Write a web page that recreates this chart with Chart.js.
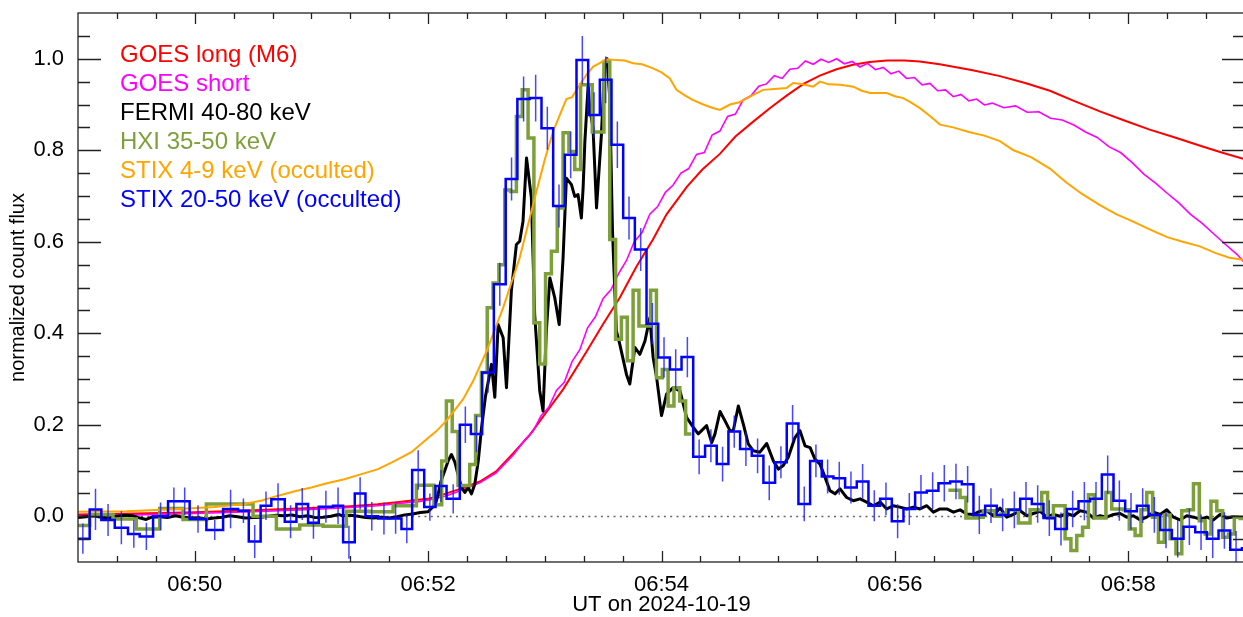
<!DOCTYPE html>
<html>
<head>
<meta charset="utf-8">
<title>Normalized count flux, UT on 2024-10-19</title>
<script src="https://cdn.jsdelivr.net/npm/chart.js@4.4.1/dist/chart.umd.min.js"></script>
<style>
  html, body { margin: 0; padding: 0; background: #fff; overflow: hidden; }
  #wrap { width: 1247px; height: 617px; }
</style>
</head>
<body>
<div id="wrap"><canvas id="fluxChart"></canvas></div>
<script>
// all times are seconds after 06:49:00 UT
const xTickSeconds = [60, 180, 300, 420, 540];
const xTickLabels = ['06:50', '06:52', '06:54', '06:56', '06:58'];
const yTickValues = [0, 0.2, 0.4, 0.6, 0.8, 1.0];
const yTickLabels = ['0.0', '0.2', '0.4', '0.6', '0.8', '1.0'];

const legendLabels = ['GOES long (M6)', 'GOES short', 'FERMI 40-80 keV', 'HXI 35-50 keV',
  'STIX 4-9 keV (occulted)', 'STIX 20-50 keV (occulted)'];
const legendColors = ['#ff0000', '#ff00ff', '#000000', '#7ea03a', '#ffa500', '#0000ff'];

const goesLongTime = [0, 30, 60, 90, 120, 140, 154, 165, 175, 181, 189.5, 198, 206.6, 215, 223.8, 232.3,
  240.9, 249.5, 261.5, 270, 278.6, 287, 295.6, 302.6, 313, 321, 330, 338, 347, 356, 364.5, 373, 381.4,
  390, 398.4, 407, 415.9, 425, 432.8, 443, 460, 474, 487, 499.7, 512, 525.4, 538, 551, 564, 577, 588, 600];
const goesLongFlux = [0.004, 0.006, 0.009, 0.013, 0.018, 0.022, 0.026, 0.031, 0.036, 0.039, 0.05, 0.062,
  0.076, 0.098, 0.138, 0.178, 0.228, 0.278, 0.36, 0.42, 0.478, 0.545, 0.605, 0.66, 0.72, 0.758, 0.792,
  0.83, 0.862, 0.893, 0.92, 0.945, 0.963, 0.977, 0.987, 0.993, 0.996, 0.996, 0.994, 0.988, 0.975, 0.962,
  0.947, 0.93, 0.908, 0.885, 0.865, 0.845, 0.828, 0.81, 0.795, 0.78];

const goesShortTime = [0, 30, 60, 90, 120, 140, 154, 165, 175, 181, 189.5, 198, 206.6, 215, 223.8, 230,
  234, 238, 242, 246, 250, 254, 258, 262, 266, 270, 274, 278, 282, 286, 290, 294, 298, 302, 306, 310,
  314, 318, 322, 326, 330, 334, 338, 342, 346, 350, 354, 358, 362, 366, 370, 374, 378, 382, 386, 390,
  394, 398, 402, 406, 410, 414, 418, 422, 426, 430, 434, 438, 442, 446, 450, 454, 458, 462, 466, 470,
  476, 482, 488, 494, 500, 506, 512, 518, 524, 530, 536, 542, 548, 554, 560, 566, 572, 578, 584, 590,
  596, 600];
const goesShortFlux = [0.001, 0.003, 0.006, 0.01, 0.015, 0.019, 0.023, 0.028, 0.032, 0.036, 0.045, 0.058,
  0.073, 0.095, 0.134, 0.168, 0.186, 0.219, 0.238, 0.275, 0.293, 0.338, 0.364, 0.412, 0.436, 0.476,
  0.495, 0.531, 0.559, 0.6, 0.62, 0.66, 0.677, 0.708, 0.724, 0.75, 0.76, 0.791, 0.795, 0.833, 0.842,
  0.874, 0.879, 0.91, 0.919, 0.94, 0.945, 0.963, 0.957, 0.977, 0.979, 0.995, 0.988, 0.999, 0.992, 1.0,
  0.989, 0.994, 0.982, 0.99, 0.976, 0.981, 0.967, 0.973, 0.957, 0.959, 0.943, 0.946, 0.93, 0.932, 0.917,
  0.922, 0.908, 0.912, 0.899, 0.903, 0.893, 0.897, 0.883, 0.884, 0.87, 0.866, 0.855, 0.84, 0.828, 0.808,
  0.795, 0.773, 0.748, 0.728, 0.706, 0.685, 0.66, 0.64, 0.617, 0.594, 0.572, 0.553];

const fermiTime = [0, 4, 8, 12, 16, 20, 24, 28, 32, 35, 38, 42, 46, 50, 54, 58, 62, 66, 70, 74, 78, 82,
  86, 90, 94, 98, 102, 106, 110, 114, 118, 122, 126, 130, 134, 136, 140, 144, 148, 152, 156, 160, 164,
  168, 172, 176, 180, 182.3, 184, 185.2, 186.5, 188.6, 190.3, 192, 193.8, 195.5, 197.2, 198.9, 200.6,
  202.3, 204, 205.8, 207.5, 209.5, 212.6, 214.3, 216, 218.6, 220.3, 222.8, 225.4, 227.1, 228.8, 230.6,
  233.1, 234.8, 237.4, 239.1, 240.8, 242.6, 245.1, 247.4, 249.4, 251.1, 253.7, 255.4, 257.1, 258.8,
  259.7, 260.6, 262.3, 263.1, 264.8, 266.6, 269.1, 270.8, 272, 273.4, 274.8, 276.8, 278.6, 282, 283.7,
  286.3, 288.9, 291.5, 294, 295.7, 297.5, 300, 302.6, 306, 309.5, 312.9, 316.4, 318.9, 320.6, 323.2,
  325.8, 327.5, 330.1, 332.6, 335.2, 336.9, 339.5, 342.1, 344.6, 347.2, 350.6, 354.1, 357.5, 360.1,
  362.6, 365.2, 368.6, 371.2, 373.8, 376.4, 378.9, 381.5, 384.1, 386.6, 389.2, 391.8, 395.2, 398.6,
  402.1, 405.5, 408.9, 412.4, 415.8, 419.2, 422.6, 426.1, 429.5, 432.9, 436.4, 439.8, 443.2, 446.7,
  450.1, 453.5, 457, 460.4, 463.8, 467.2, 470.6, 474.1, 477.5, 480.9, 484.4, 487.8, 491.2, 494.6,
  498.1, 501.5, 504.9, 508.4, 511.8, 515.2, 518.6, 522.1, 525.5, 528.9, 532.4, 535.8, 539.2, 542.6,
  546.1, 549.5, 552.9, 556.4, 559.8, 563.2, 566.6, 570.1, 573.5, 576.9, 580.4, 583.8, 587.2, 590.6,
  594.1, 597.5, 600];
const fermiFlux = [-0.003, -0.001, 0.001, -0.002, -0.004, 0.0, 0.002, 0.001, -0.004, -0.007, -0.002,
  -0.001, -0.003, 0.001, -0.002, -0.004, -0.003, -0.006, -0.004, -0.002, 0.001, -0.001, -0.004, -0.003,
  -0.002, 0.0, 0.002, 0.001, 0.003, -0.001, 0.001, -0.003, -0.002, 0.0, 0.004, 0.001, 0.002, 0.0,
  -0.003, -0.004, -0.002, -0.004, -0.001, 0.003, 0.005, 0.008, 0.01, 0.02, 0.03, 0.049, 0.075, 0.1,
  0.121, 0.135, 0.118, 0.089, 0.063, 0.052, 0.063, 0.049, 0.07, 0.121, 0.194, 0.262, 0.332, 0.26, 0.419,
  0.39, 0.281, 0.492, 0.594, 0.601, 0.645, 0.783, 0.696, 0.441, 0.274, 0.23, 0.405, 0.521, 0.478, 0.419,
  0.565, 0.739, 0.725, 0.699, 0.703, 0.652, 0.718, 0.819, 0.943, 0.892, 0.848, 0.674, 0.834, 0.987, 1.0,
  0.914, 0.623, 0.405, 0.375, 0.31, 0.289, 0.369, 0.354, 0.383, 0.434, 0.347, 0.303, 0.22, 0.267, 0.281,
  0.274, 0.216, 0.194, 0.18, 0.187, 0.198, 0.161, 0.18, 0.229, 0.209, 0.187, 0.187, 0.241, 0.201, 0.158,
  0.143, 0.14, 0.159, 0.121, 0.103, 0.111, 0.129, 0.172, 0.187, 0.154, 0.15, 0.125, 0.114, 0.085, 0.056,
  0.049, 0.06, 0.041, 0.034, 0.038, 0.031, 0.023, 0.031, 0.016, 0.023, 0.02, 0.016, 0.02, 0.016, 0.023,
  0.009, 0.016, 0.016, 0.009, 0.014, 0.005, 0.004, 0.011, 0.012, 0.001, 0.018, -0.002, 0.004, 0.012,
  0.001, 0.006, 0.011, -0.002, 0.004, 0.0, 0.006, 0.001, 0.012, 0.009, -0.004, 0.001, -0.002, 0.004,
  0.006, -0.002, 0.001, -0.008, -0.002, 0.009, 0.004, 0.014, -0.002, -0.008, 0.001, -0.002, -0.006,
  -0.002, -0.008, 0.004, -0.004, -0.001, -0.002, -0.002];

// HXI: irregular bins before the flare, 3 s bins during it, a gap, then 3 s bins again
const hxiEarlyStarts = [-6, 6, 18, 30, 42, 54, 66, 78, 90, 102, 114, 126, 138, 150, 162, 174, 183, 187];
const hxiEarlyFlux = [-0.02, 0.004, -0.006, -0.028, 0.017, -0.007, 0.027, 0.027, 0.0, -0.028, -0.019,
  -0.022, 0.011, 0.01, 0.023, 0.068, 0.025, 0.121];
const hxiFlareStart = 189.4;
const hxiFlareFlux = [0.252, 0.185, 0.067, 0.067, 0.113, 0.22, 0.314, 0.456, 0.51, 0.55, 0.713, 0.71,
  0.874, 0.932, 0.827, 0.423, 0.333, 0.53, 0.579, 0.674, 0.838, 0.797, 0.758, 0.943, 0.943, 0.84, 0.84,
  0.994, 0.605, 0.387, 0.435, 0.34, 0.494, 0.416, 0.416, 0.494, 0.303, 0.321, 0.241, 0.281, 0.252, 0.18];
const hxiLateStart = 447.5;
const hxiLateFlux = [0.057, 0.057, 0.041, -0.004, -0.004, -0.002, 0.012, 0.012, 0.0, 0.005, 0.014, 0.014,
  -0.015, -0.015, 0.014, 0.014, 0.052, -0.004, 0.023, 0.023, -0.049, -0.075, -0.042, -0.024, 0.047,
  -0.004, -0.004, 0.052, 0.016, 0.016, 0.014, -0.028, -0.042, 0.014, 0.052, -0.002, -0.057, 0.003,
  -0.049, -0.082, 0.012, 0.014, 0.071, -0.01, -0.039, 0.033, 0.012, -0.046, -0.039, -0.002, -0.005];
const hxiBinWidth = 3;

const stixLowTime = [0, 25, 51.4, 70, 85.7, 95, 102.9, 112, 120, 128, 137, 145.7, 154.3, 162.9, 171.4,
  178.3, 184, 189.5, 198, 203.2, 210, 218.6, 227.1, 235.7, 240, 244.3, 248, 251.1, 254, 258, 261.4,
  264.9, 268, 271.7, 276.9, 281, 285.4, 290, 295.7, 300, 304.3, 307.7, 312, 316, 321.5, 326, 330, 335.2,
  340, 347.2, 352.3, 358, 364.3, 367.7, 372, 378, 381.5, 386, 392, 398.6, 403, 407.2, 415.8, 420, 424.3,
  428, 432.9, 438, 443.2, 450, 458, 466, 474, 481, 490, 499.7, 508, 516, 525.4, 534, 542, 551, 560, 568,
  576.8, 585, 592, 600];
const stixLowFlux = [0.01, 0.011, 0.016, 0.02, 0.027, 0.035, 0.045, 0.055, 0.063, 0.072, 0.081, 0.092,
  0.103, 0.121, 0.14, 0.165, 0.185, 0.209, 0.256, 0.296, 0.36, 0.456, 0.565, 0.71, 0.78, 0.841, 0.88,
  0.912, 0.916, 0.943, 0.965, 0.983, 0.99, 0.999, 0.997, 0.996, 0.99, 0.988, 0.979, 0.97, 0.957, 0.932,
  0.92, 0.91, 0.9, 0.893, 0.888, 0.9, 0.905, 0.921, 0.932, 0.934, 0.936, 0.947, 0.945, 0.939, 0.95,
  0.944, 0.943, 0.939, 0.93, 0.925, 0.925, 0.918, 0.914, 0.905, 0.892, 0.875, 0.856, 0.85, 0.84, 0.832,
  0.82, 0.8, 0.785, 0.76, 0.73, 0.705, 0.68, 0.66, 0.645, 0.627, 0.61, 0.6, 0.59, 0.575, 0.565, 0.56];

// STIX 20-50 keV: bin edges, counts per bin and one-sigma errors
const stixHighEdges = [-1, 6.0, 12.0, 18.9, 25.7, 31.7, 38.6, 46.3, 52.3, 57.4, 66.0, 74.6, 82.3, 87.8,
  93.9, 99.4, 106.3, 112.3, 118.3, 123.8, 131.1, 136.3, 142.3, 147.8, 154.3, 160.3, 166.3, 171.8, 178.0,
  183.8, 189.5, 196.3, 202.0, 207.8, 213.8, 219.9, 225.9, 232.3, 238.3, 244.3, 250.3, 256.3, 262.3,
  268.3, 274.3, 280.3, 286.3, 292.3, 298.3, 304.3, 310.3, 316.3, 322.4, 328.4, 334.4, 340.4, 346.4,
  352.4, 358.4, 364.4, 370.4, 376.4, 382.4, 388.4, 394.4, 400.4, 406.4, 412.4, 418.4, 424.4, 430.4,
  436.4, 442.4, 448.4, 454.4, 460.4, 466.4, 472.4, 478.4, 484.4, 490.4, 496.4, 502.4, 508.4, 514.4,
  520.4, 526.4, 532.4, 538.4, 544.4, 550.4, 556.4, 562.4, 568.4, 574.4, 580.4, 586.4, 592.4, 598.4, 604.4];
const stixHighFlux = [-0.049, 0.015, -0.008, -0.025, -0.039, -0.044, 0.0, 0.033, 0.033, -0.006, -0.03,
  0.016, 0.012, -0.055, 0.023, 0.037, -0.012, 0.027, -0.014, 0.021, 0.023, -0.057, 0.05, 0.0, -0.005,
  -0.005, -0.028, 0.101, 0.02, 0.066, 0.038, 0.2, 0.18, 0.314, 0.507, 0.737, 0.912, 0.914, 0.848, 0.678,
  0.79, 0.997, 0.877, 0.954, 0.812, 0.652, 0.583, 0.421, 0.347, 0.321, 0.348, 0.13, 0.154, 0.114, 0.185,
  0.147, 0.132, 0.073, 0.118, 0.203, 0.027, 0.121, 0.087, 0.083, 0.063, 0.076, 0.023, 0.038, -0.011,
  0.016, 0.052, 0.056, 0.072, 0.076, 0.07, 0.003, 0.023, 0.003, 0.014, 0.038, 0.027, -0.004, -0.028,
  0.016, 0.033, 0.038, 0.091, 0.034, 0.011, 0.023, 0.003, -0.03, -0.049, -0.023, -0.035, -0.049,
  -0.031, -0.073, -0.07];
const stixHighErr = [0.033, 0.045, 0.035, 0.036, 0.03, 0.03, 0.03, 0.03, 0.03, 0.03, 0.022, 0.042, 0.027,
  0.036, 0.031, 0.035, 0.036, 0.035, 0.035, 0.035, 0.04, 0.036, 0.035, 0.031, 0.035, 0.033, 0.031, 0.043,
  0.03, 0.035, 0.032, 0.04, 0.04, 0.044, 0.047, 0.047, 0.049, 0.051, 0.047, 0.047, 0.051, 0.053, 0.05,
  0.051, 0.051, 0.047, 0.047, 0.045, 0.044, 0.044, 0.044, 0.038, 0.036, 0.038, 0.035, 0.037, 0.038,
  0.038, 0.035, 0.04, 0.038, 0.036, 0.037, 0.036, 0.035, 0.038, 0.034, 0.036, 0.037, 0.035, 0.038, 0.04,
  0.04, 0.039, 0.04, 0.042, 0.038, 0.036, 0.04, 0.037, 0.041, 0.039, 0.036, 0.04, 0.042, 0.037, 0.042,
  0.044, 0.04, 0.038, 0.039, 0.04, 0.041, 0.04, 0.039, 0.042, 0.04, 0.041, 0.042];

const FONT = '"Liberation Sans", Arial, Helvetica, sans-serif';

function linePoints(times, values) {
  return times.map((t, i) => ({ x: t, y: values[i] }));
}

// step histogram: value of bin i holds from starts[i] to the next start
function stepPoints(starts, values, end) {
  const pts = values.map((v, i) => ({ x: starts[i], y: v }));
  pts.push({ x: end, y: values[values.length - 1] });
  return pts;
}

function uniformStarts(start, width, n) {
  const out = [];
  for (let i = 0; i < n; i++) out.push(+(start + i * width).toFixed(2));
  return out;
}

function buildHxi() {
  const flareStarts = uniformStarts(hxiFlareStart, hxiBinWidth, hxiFlareFlux.length);
  const flareEnd = hxiFlareStart + hxiBinWidth * hxiFlareFlux.length;
  const lateStarts = uniformStarts(hxiLateStart, hxiBinWidth, hxiLateFlux.length);
  const lateEnd = hxiLateStart + hxiBinWidth * hxiLateFlux.length;
  const early = hxiEarlyFlux.map((v, i) => ({ x: hxiEarlyStarts[i], y: v }));
  return early
    .concat(stepPoints(flareStarts, hxiFlareFlux, flareEnd))
    .concat([{ x: flareEnd + 0.5, y: null }])
    .concat(stepPoints(lateStarts, hxiLateFlux, lateEnd));
}

const framePlugin = {
  id: 'frame',
  beforeDatasetsDraw(chart) {
    const { ctx, chartArea: a, scales: { y } } = chart;
    const y0 = Math.round(y.getPixelForValue(0)) + 0.5;
    ctx.save();
    ctx.strokeStyle = '#666';
    ctx.lineWidth = 1.4;
    ctx.setLineDash([2, 4.3]);
    ctx.beginPath();
    ctx.moveTo(a.left, y0);
    ctx.lineTo(a.right, y0);
    ctx.stroke();
    ctx.restore();
  },
  afterDatasetsDraw(chart) {
    // error bars of STIX 20-50 keV
    const { ctx, chartArea: a, scales: { x, y } } = chart;
    ctx.save();
    ctx.beginPath();
    ctx.rect(a.left, a.top, a.right - a.left, a.bottom - a.top);
    ctx.clip();
    ctx.strokeStyle = 'rgba(25,25,255,0.8)';
    ctx.lineWidth = 1.5;
    ctx.beginPath();
    stixHighFlux.forEach((v, i) => {
      const e = stixHighErr[i] !== undefined ? stixHighErr[i] : 0.04;
      const xc = x.getPixelForValue((stixHighEdges[i] + stixHighEdges[i + 1]) / 2);
      ctx.moveTo(xc, y.getPixelForValue(v - e));
      ctx.lineTo(xc, y.getPixelForValue(v + e));
    });
    ctx.stroke();
    ctx.restore();
  },
  afterDraw(chart) {
    const { ctx, chartArea: a, scales: { x, y } } = chart;
    ctx.save();
    ctx.strokeStyle = '#222';
    ctx.lineWidth = 1.3;
    ctx.strokeRect(a.left, a.top, a.right - a.left, a.bottom - a.top);
    ctx.beginPath();
    for (let s = 20; s < 600; s += 20) {
      const px = Math.round(x.getPixelForValue(s)) + 0.5;
      const len = (s - 60) % 120 === 0 ? 11 : 6;
      ctx.moveTo(px, a.bottom);
      ctx.lineTo(px, a.bottom - len);
      ctx.moveTo(px, a.top);
      ctx.lineTo(px, a.top + len);
    }
    for (let k = -1; k <= 21; k++) {
      const py = Math.round(y.getPixelForValue(k * 0.05)) + 0.5;
      const len = k % 4 === 0 ? 23 : 12;
      ctx.moveTo(a.left, py);
      ctx.lineTo(a.left + len, py);
      ctx.moveTo(a.right, py);
      ctx.lineTo(a.right - len, py);
    }
    ctx.stroke();

    ctx.font = '24px ' + FONT;
    ctx.textBaseline = 'alphabetic';
    ctx.textAlign = 'left';
    legendLabels.forEach((label, i) => {
      ctx.fillStyle = legendColors[i];
      ctx.fillText(label, 120, 62 + i * 29);
    });
    ctx.restore();
  }
};

const ctx = document.getElementById('fluxChart').getContext('2d');
new Chart(ctx, {
  type: 'line',
  data: {
    datasets: [
      {
        label: legendLabels[0], data: linePoints(goesLongTime, goesLongFlux),
        borderColor: legendColors[0], borderWidth: 2, order: 6
      },
      {
        label: legendLabels[1], data: linePoints(goesShortTime, goesShortFlux),
        borderColor: legendColors[1], borderWidth: 1.6, order: 5
      },
      {
        label: legendLabels[2], data: linePoints(fermiTime, fermiFlux),
        borderColor: legendColors[2], borderWidth: 3, borderJoinStyle: 'round', order: 4
      },
      {
        label: legendLabels[3], data: buildHxi(),
        borderColor: legendColors[3], borderWidth: 3.5, stepped: 'before', order: 3
      },
      {
        label: legendLabels[4], data: linePoints(stixLowTime, stixLowFlux),
        borderColor: legendColors[4], borderWidth: 2, order: 2
      },
      {
        label: legendLabels[5],
        data: stepPoints(stixHighEdges, stixHighFlux, stixHighEdges[stixHighEdges.length - 1]),
        borderColor: legendColors[5], borderWidth: 2.5, stepped: 'before', order: 1
      }
    ]
  },
  options: {
    responsive: true,
    maintainAspectRatio: false,
    animation: false,
    events: [],
    layout: { padding: { top: 13, right: 2, left: 0, bottom: 0 } },
    elements: { point: { radius: 0 }, line: { tension: 0, fill: false } },
    plugins: { legend: { display: false }, tooltip: { enabled: false } },
    scales: {
      x: {
        type: 'linear', min: 0, max: 600,
        grid: { display: false }, border: { display: false },
        afterBuildTicks: s => { s.ticks = xTickSeconds.map(v => ({ value: v })); },
        afterFit: s => { s.height = 55; s.paddingLeft = 0; s.paddingRight = 0; },
        ticks: {
          autoSkip: false, maxRotation: 0, padding: 2, color: '#000',
          font: { family: FONT, size: 22 },
          callback: (v, i) => xTickLabels[i]
        },
        title: {
          display: true, text: 'UT on 2024-10-19', color: '#000',
          font: { family: FONT, size: 22 }, padding: { top: 0, bottom: -1 }
        }
      },
      y: {
        min: -0.1, max: 1.1,
        grid: { display: false }, border: { display: false },
        afterBuildTicks: s => { s.ticks = yTickValues.map(v => ({ value: v })); },
        afterFit: s => { s.width = 78; s.paddingTop = 0; s.paddingBottom = 0; },
        ticks: {
          padding: 6, color: '#000',
          font: { family: FONT, size: 22 },
          callback: (v, i) => yTickLabels[i]
        },
        title: {
          display: true, text: 'normalized count flux', color: '#000',
          font: { family: FONT, size: 20 }, padding: { top: 6, bottom: 0 }
        }
      }
    }
  },
  plugins: [framePlugin]
});
</script>
</body>
</html>
